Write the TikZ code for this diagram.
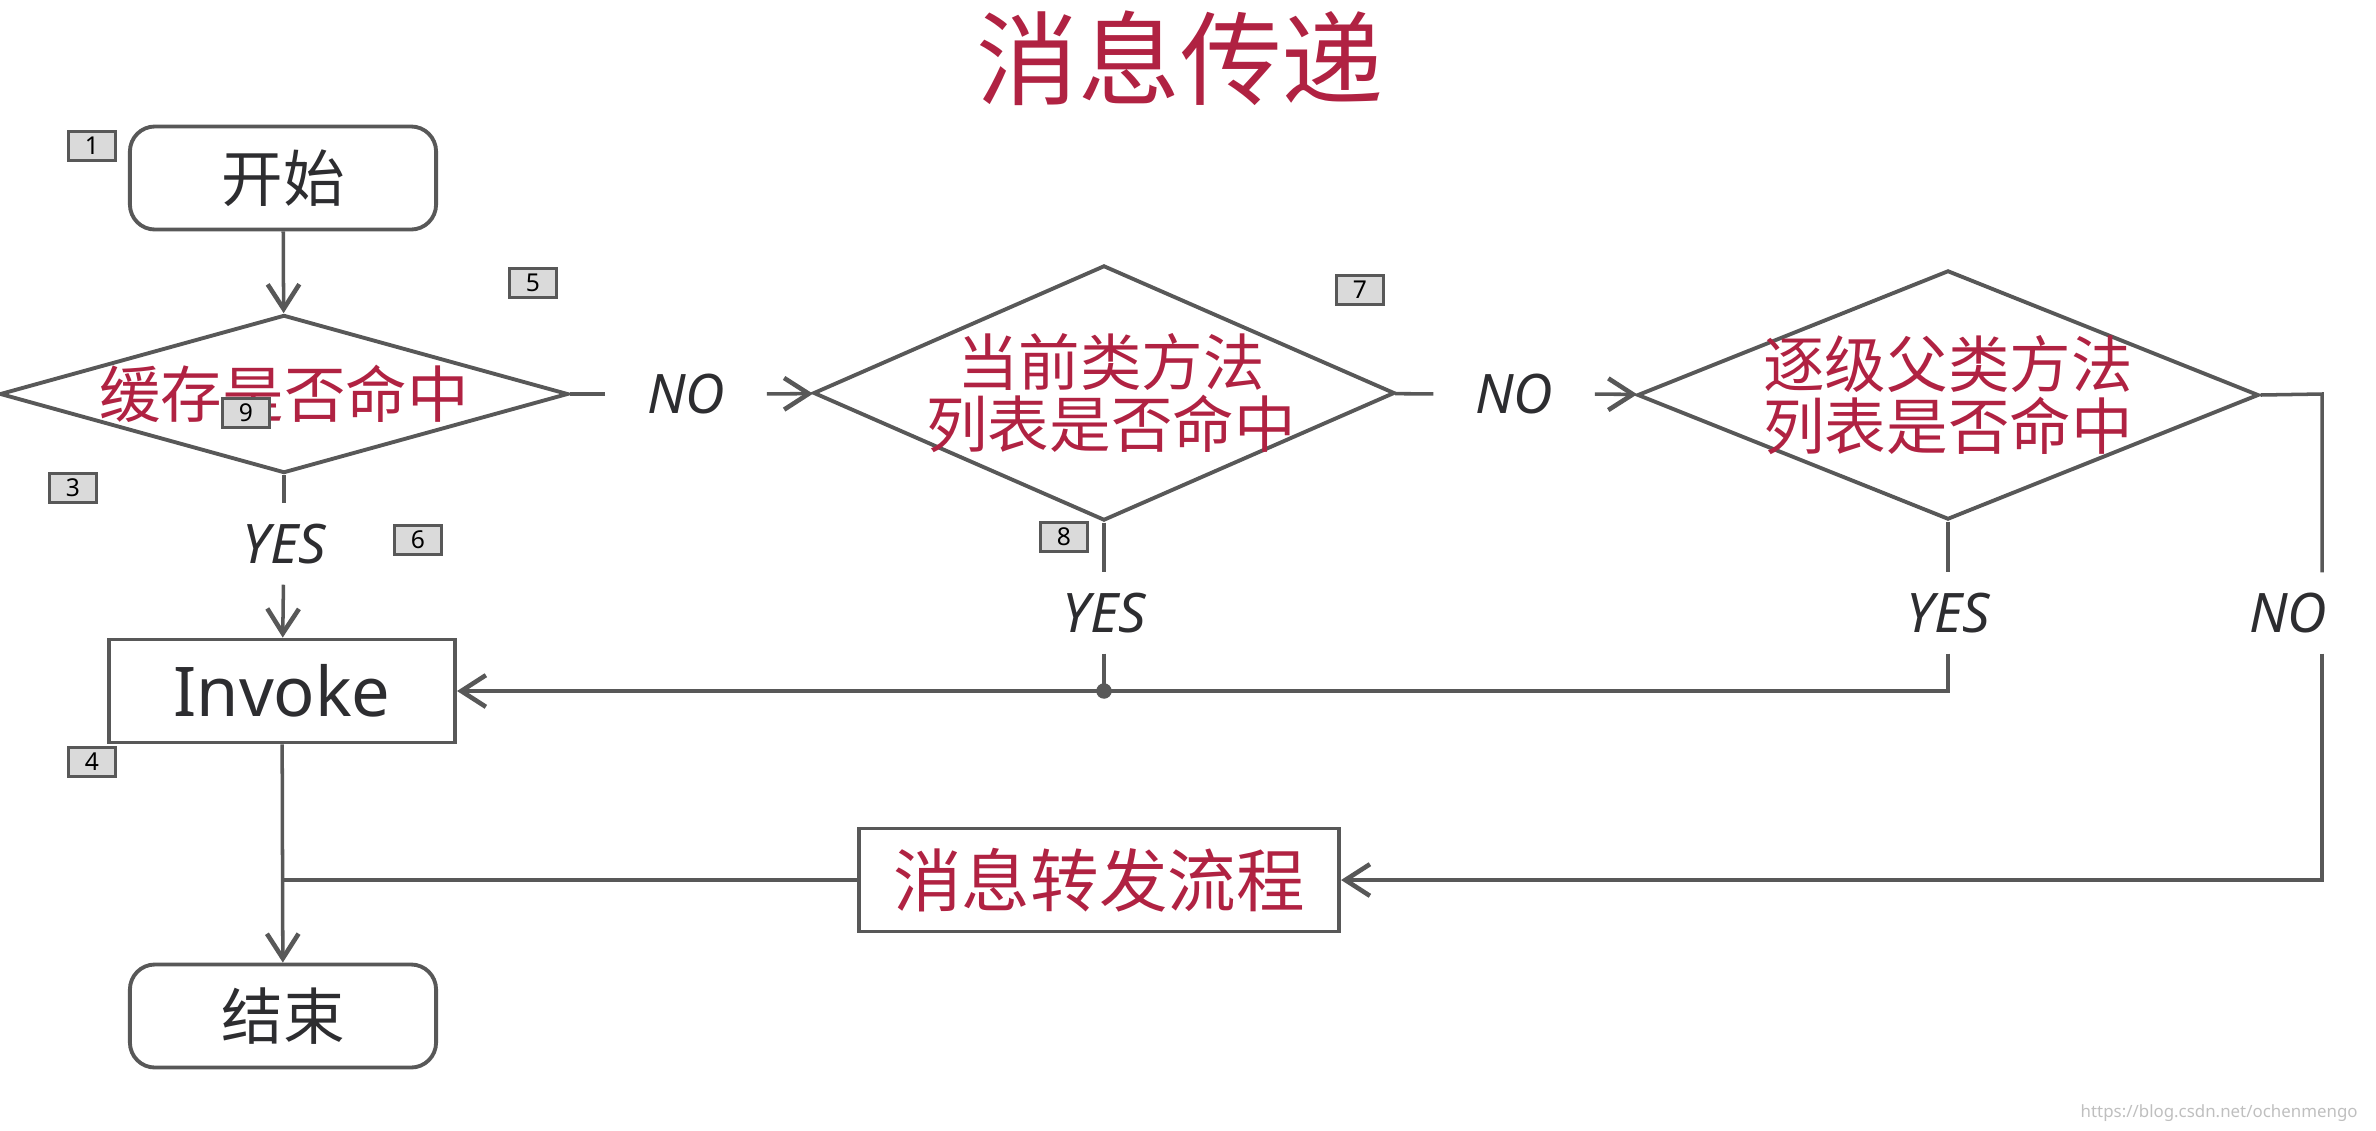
\documentclass[tikz,border=0pt]{standalone}
\usepackage{fontspec}
\setmainfont{Noto Sans}
\newfontfamily\cjk{Noto Sans CJK SC}
\usetikzlibrary{shapes.geometric,arrows.meta}
\definecolor{crim}{RGB}{176,34,66}
\definecolor{lngray}{RGB}{88,88,88}
\definecolor{txt}{RGB}{45,45,48}
\definecolor{tagfill}{RGB}{218,218,218}

\begin{document}
\begin{tikzpicture}[x=0.01cm,y=-0.01cm,
  ln/.style={draw=lngray,line width=1pt},
  arr/.style={ln,-{Straight Barb[length=7pt,width=9pt,line width=1.3pt]}},
  box/.style={draw=lngray,line width=1.1pt,minimum height=1.03cm,inner sep=0},
  term/.style={box,rounded corners=0.25cm,minimum width=3.06cm,text=txt,font=\cjk\fontsize{17.5}{18}\selectfont},
  decision/.style={diamond,draw=lngray,line width=1.1pt,inner sep=0},
  dtext/.style={text=crim,align=center,inner sep=0,font=\cjk\fontsize{17.5}{17.6}\selectfont},
  lbl/.style={text=txt,inner sep=0,minimum width=1.6cm,minimum height=0.8cm,font=\fontsize{15.5}{16}\selectfont\itshape},
  tag/.style={draw=lngray,fill=tagfill,line width=0.7pt,minimum width=0.47cm,minimum height=0.29cm,inner sep=0,font=\fontsize{7}{7}\selectfont}]
\useasboundingbox (0,0) rectangle (2376,1130);
\node[text=crim,font=\cjk\fontsize{29}{30}\selectfont] (title) at (1180,58) {消息传递};
% boxes
\node[term] (start) at (283,178) {开始};
\node[term] (end) at (283,1016) {结束};
\node[box,minimum width=3.46cm,text=txt,font=\fontsize{19.5}{20}\selectfont] (inv) at (282,691) {Invoke};
\node[box,minimum width=4.80cm,text=crim,font=\cjk\fontsize{19.5}{20}\selectfont] (fwd) at (1099,880) {消息转发流程};
% decisions
\node[decision,minimum width=5.68cm,minimum height=1.58cm,label={[dtext]center:缓存是否命中}] (dec1) at (284,394) {};
\node[decision,minimum width=5.81cm,minimum height=2.55cm,label={[dtext,xshift=0.07cm]center:{当前类方法\\列表是否命中}}] (dec2) at (1104,393) {};
\node[decision,minimum width=6.21cm,minimum height=2.49cm,label={[dtext]center:{逐级父类方法\\列表是否命中}}] (dec3) at (1948,395) {};
% branch labels
\node[lbl] (no1) at (686,394) {NO};
\node[lbl] (no2) at (1514,394) {NO};
\node[lbl] (yes1) at (284,544) {YES};
\node[lbl] (yes2) at (1104,613) {YES};
\node[lbl] (yes3) at (1948,613) {YES};
\node[lbl] (no3) at (2288,613) {NO};
\coordinate (c1) at (2322,394);
\coordinate (j1) at (yes2 |- inv.east);
% connectors
\draw[arr] (start) -- (dec1);
\draw[ln] (dec1) -- (no1);
\draw[arr] (no1) -- (dec2);
\draw[ln] (dec2) -- (no2);
\draw[arr] (no2) -- (dec3);
\draw[ln] (dec1) -- (yes1);
\draw[arr] (yes1) -- (inv);
\draw[ln] (dec2) -- (yes2);
\draw[ln] (yes2) -- (j1);
\draw[ln] (dec3) -- (yes3);
\draw[arr] (yes3) |- (inv.east);
\fill[lngray] (j1) circle (2.2pt);
\draw[ln] (dec3.east) -- (c1) -- (c1 |- no3.north);
\draw[arr] (c1 |- no3.south) |- (fwd.east);
\draw[ln] (fwd.west) -- (fwd -| inv);
\draw[arr] (inv) -- (end);
% number tags
\foreach \n/\x/\y in {1/92/146,5/533/283,9/246/413,3/73/488,6/418/540,7/1360/290,8/1064/537,4/92/762}
  { \node[tag] (t\n) at (\x,\y) {\n}; }
\node[anchor=east,text=black!25,font=\fontsize{4.8}{5}\selectfont] (wm) at (2370,1113) {https://blog.csdn.net/ochenmengo};
\end{tikzpicture}
\end{document}
